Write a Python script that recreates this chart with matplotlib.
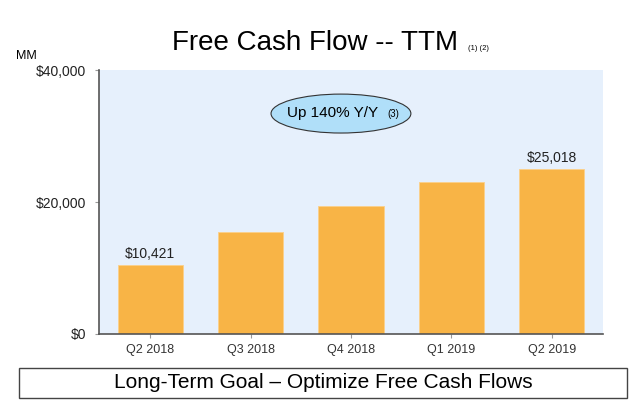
import matplotlib.pyplot as plt
from matplotlib.patches import Ellipse, Rectangle

plt.rcParams['font.family'] = ['Liberation Sans', 'DejaVu Sans']

quarters = ['Q2 2018', 'Q3 2018', 'Q4 2018', 'Q1 2019', 'Q2 2019']
fcf = [10421, 15400, 19400, 23000, 25018]
labelled = {0: '$10,421', 4: '$25,018'}
yticks = [0, 20000, 40000]
ytick_labels = ['$0', '$20,000', '$40,000']

fig = plt.figure(figsize=(6.4, 4.03), dpi=100)
ax = fig.add_axes([99 / 640, 69 / 403, 504 / 640, 264 / 403])
ax.set_facecolor('#E6F0FC')

x = range(len(quarters))
ax.bar(x, fcf, width=0.65, color='#F8B446', edgecolor='#FBD08A', linewidth=0.6, zorder=2)
ax.set_xlim(-0.51, 4.51)
ax.set_ylim(0, 40000)
ax.set_xticks(list(x))
ax.set_xticklabels(quarters, fontsize=9, color='#333333')
ax.set_yticks(yticks)
ax.set_yticklabels(ytick_labels, fontsize=10, color='#222222')
ax.tick_params(axis='x', length=3, color='#999999', pad=4)
ax.tick_params(axis='y', length=3, color='#999999', pad=6)

for s in ['top', 'right']:
    ax.spines[s].set_visible(False)
for s in ['left', 'bottom']:
    ax.spines[s].set_color('#555555')
    ax.spines[s].set_linewidth(1.2)

for i, txt in labelled.items():
    ax.annotate(txt, (i, fcf[i]), xytext=(0, 5), textcoords='offset points',
                ha='center', va='baseline', fontsize=10, color='#222222')

# callout bubble
ax.add_patch(Ellipse((1.90, 33400), 1.393, 5900, facecolor='#B0DFF9',
                     edgecolor='#333333', linewidth=0.8, zorder=3))
ax.text(1.36, 32900, 'Up 140% Y/Y', fontsize=11, ha='left', va='baseline', zorder=4)
ax.text(2.36, 32900, '(3)', fontsize=7, ha='left', va='baseline', zorder=4)

# title
fig.text(171.7 / 640, 1 - 50 / 403, 'Free Cash Flow -- TTM', fontsize=20,
         ha='left', va='baseline')
fig.text(468 / 640, 1 - 50 / 403, '(1) (2)', fontsize=5.5, ha='left', va='baseline')
fig.text(15.7 / 640, 1 - 59 / 403, 'MM', fontsize=9, ha='left', va='baseline')

# bottom box
fig.patches.append(Rectangle((18.5 / 640, 5 / 403), 608.5 / 640, 30 / 403,
                             transform=fig.transFigure, facecolor='white',
                             edgecolor='#444444', linewidth=1))
fig.text(323 / 640, 1 - 383 / 403, 'Long-Term Goal \u2013 Optimize Free Cash Flows',
         fontsize=15, ha='center', va='center')

fig.savefig('out.png', dpi=100)
